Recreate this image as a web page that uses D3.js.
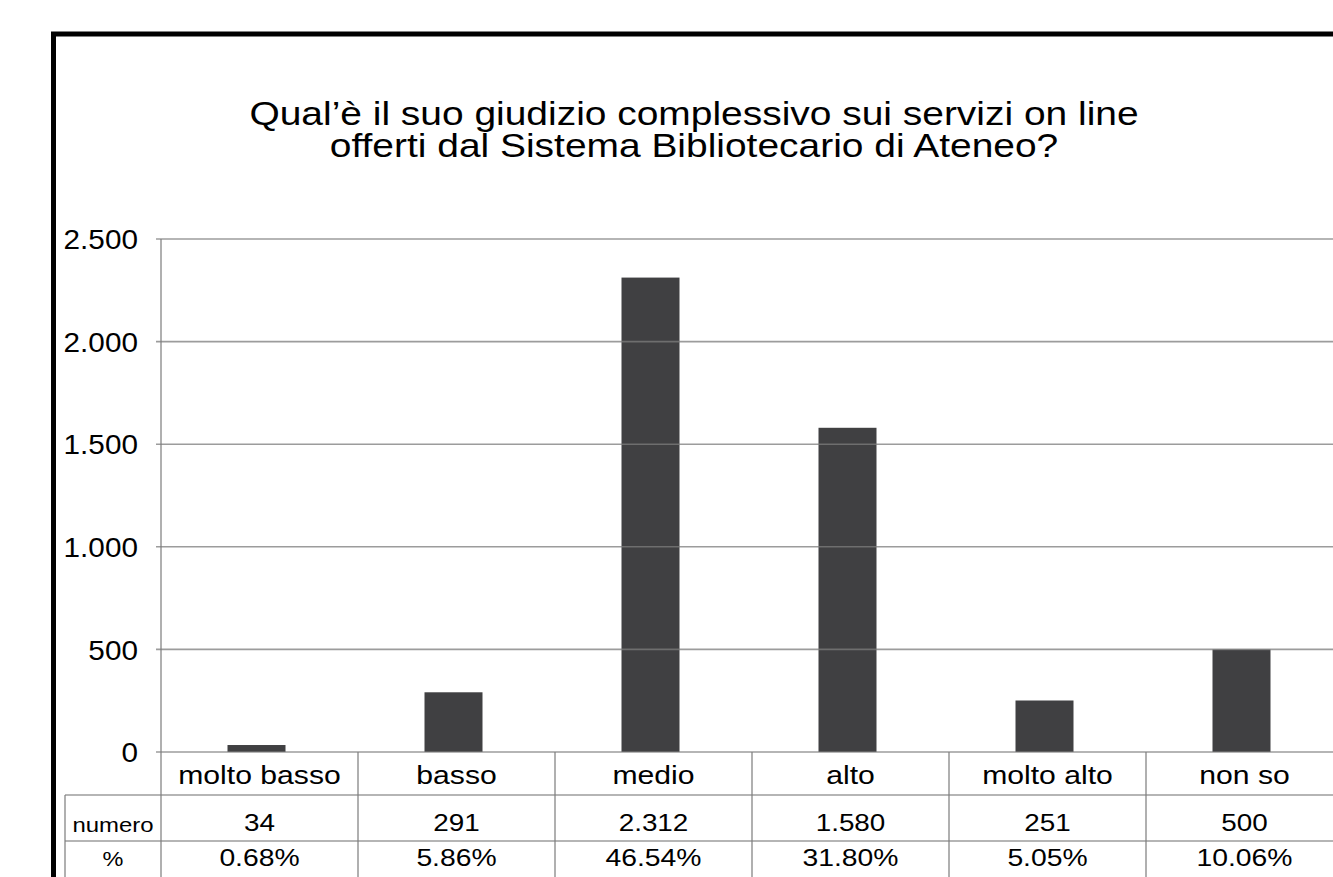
<!DOCTYPE html>
<html>
<head>
<meta charset="utf-8">
<script src="https://cdn.jsdelivr.net/npm/d3@7"></script>
<style>
  body { margin: 0; background: #fff; overflow: hidden; }
  text { font-family: "Liberation Sans", Arial, sans-serif; fill: #000; }
</style>
</head>
<body>
<div id="plot"></div>
<script>
// data
const categories = ["molto basso", "basso", "medio", "alto", "molto alto", "non so"];
const numero = [34, 291, 2312, 1580, 251, 500];
const percent = [0.68, 5.86, 46.54, 31.80, 5.05, 10.06];
const yTicks = [0, 500, 1000, 1500, 2000, 2500];
const titleLines = ["Qual\u2019\u00e8 il suo giudizio complessivo sui servizi on line",
                    "offerti dal Sistema Bibliotecario di Ateneo?"];
const rowLabels = ["numero", "%"];

const W = 1333, H = 877;
const plotLeft = 161, plotTop = 239, plotBottom = 752;
const step = 197;
const grid = "rgba(125,125,125,0.76)";

// italian style thousands "2.312"
const it = d3.formatLocale({decimal: ",", thousands: ".", grouping: [3], currency: ["", ""]});
const fmt = it.format(",");

const svg = d3.select("#plot")
    .append("svg")
    .attr("width", W)
    .attr("height", H);

// text looks horizontally stretched in the original, mimic it
function putText(g, str, x, y, size, anchor, sx) {
    return g.append("text")
        .attr("transform", "translate(" + x + "," + y + ") scale(" + sx + ",1)")
        .attr("text-anchor", anchor)
        .style("font-size", size + "px")
        .text(str);
}

// outer frame (cropped on right and bottom)
svg.append("rect")
   .attr("x", 53.5).attr("y", 34)
   .attr("width", 1500).attr("height", 1000)
   .attr("fill", "none")
   .attr("stroke", "#000")
   .attr("stroke-width", 5);

// title, two lines in one text block (tight line spacing like the original)
const title = putText(svg, "", 694, 125, 33, "middle", 1.18);
title.selectAll("tspan")
     .data(titleLines)
     .enter()
     .append("tspan")
     .attr("x", 0)
     .attr("dy", (d, i) => i === 0 ? 0 : 32)
     .text(d => d);

const x = d3.scaleBand()
    .domain(categories)
    .range([plotLeft, plotLeft + step * categories.length])
    .padding(0);

const y = d3.scaleLinear()
    .domain([0, 2500])
    .range([plotBottom, plotTop]);

// bars
const barW = 58;
svg.selectAll("rect.bar")
   .data(categories)
   .enter()
   .append("rect")
   .attr("class", "bar")
   .attr("x", d => x(d) + x.bandwidth() / 2 - barW / 2 - 3)
   .attr("y", (d, i) => y(numero[i]))
   .attr("width", barW)
   .attr("height", (d, i) => y(0) - y(numero[i]))
   .attr("fill", "#404042");

// gridlines on top of bars
svg.selectAll("line.grid")
   .data(yTicks)
   .enter()
   .append("line")
   .attr("x1", 156).attr("x2", W + 20)
   .attr("y1", d => y(d)).attr("y2", d => y(d))
   .attr("stroke", grid)
   .attr("stroke-width", 1.6);

// y axis labels
const yAxis = svg.append("g")
    .attr("transform", "translate(" + plotLeft + ",0)")
    .call(d3.axisLeft(y).tickValues(yTicks).tickFormat(fmt).tickSize(0).tickPadding(21));
yAxis.select(".domain").remove();
yAxis.selectAll("text")
     .attr("font-family", null)
     .style("font-size", "27px")
     .attr("transform", "scale(1.1,1)")
     .attr("dy", "0.36em");

// axis vertical line
svg.append("line")
   .attr("x1", plotLeft).attr("x2", plotLeft)
   .attr("y1", plotTop).attr("y2", H + 20)
   .attr("stroke", grid).attr("stroke-width", 1.6);

// data table
const rowTop = [plotBottom, 795, 841];
const tableLeft = 65;
const table = svg.append("g");

categories.forEach(c => {
    table.append("line")
         .attr("x1", x(c) + x.bandwidth()).attr("x2", x(c) + x.bandwidth())
         .attr("y1", plotBottom).attr("y2", H + 20)
         .attr("stroke", grid).attr("stroke-width", 1.6);
});
[rowTop[1], rowTop[2]].forEach(r => {
    table.append("line")
         .attr("x1", tableLeft).attr("x2", W + 20)
         .attr("y1", r).attr("y2", r)
         .attr("stroke", grid).attr("stroke-width", 1.6);
});
table.append("line")
     .attr("x1", tableLeft).attr("x2", tableLeft)
     .attr("y1", rowTop[1]).attr("y2", H + 20)
     .attr("stroke", grid).attr("stroke-width", 1.6);

categories.forEach((c, i) => {
    const cx = x(c) + x.bandwidth() / 2;
    putText(table, c, cx, 784, 26, "middle", 1.16);
    putText(table, fmt(numero[i]), cx, 831, 24, "middle", 1.16);
    putText(table, percent[i].toFixed(2) + "%", cx, 866, 24, "middle", 1.18);
});
putText(table, rowLabels[0], (tableLeft + plotLeft) / 2, 832, 21, "middle", 1.14);
putText(table, rowLabels[1], (tableLeft + plotLeft) / 2, 866, 21, "middle", 1.12);
</script>
</body>
</html>
